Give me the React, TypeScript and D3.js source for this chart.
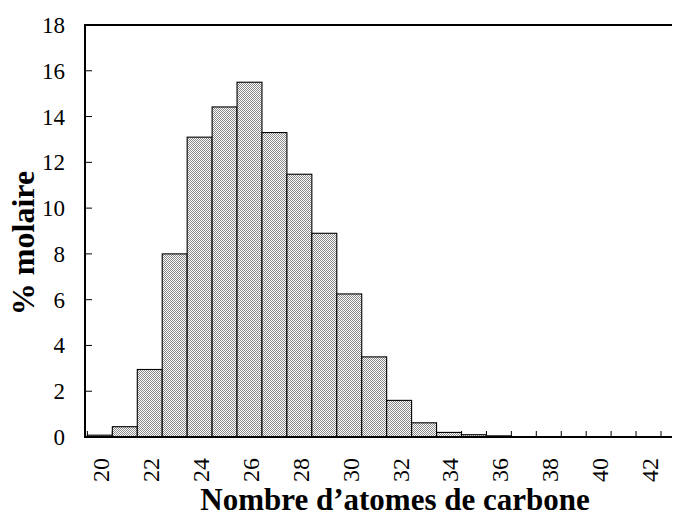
import React from "react";
import * as d3 from "d3";

const carbonNumbers = d3.range(20, 43);
const molarPercent = [
  0.08, 0.45, 2.95, 8.0, 13.1, 14.42, 15.5, 13.3, 11.48, 8.9, 6.25, 3.5, 1.6, 0.62, 0.2, 0.1,
  0.05, 0.02, 0, 0, 0, 0, 0,
];
const yTicks = [0, 2, 4, 6, 8, 10, 12, 14, 16, 18];
const xTickLabels = [20, 22, 24, 26, 28, 30, 32, 34, 36, 38, 40, 42];

const W = 674;
const H = 518;
const axisLeft = 85;
const axisRight = 672;
const bandLeft = 87.4;
const bandRight = 661;
const yTop = 25;
const yBottom = 437;
const serif = "'Liberation Serif', 'Times New Roman', serif";

export default function App() {
  const x = d3
    .scaleBand<number>()
    .domain(carbonNumbers)
    .range([bandLeft, bandRight])
    .paddingInner(0)
    .paddingOuter(0);
  const y = d3.scaleLinear().domain([0, 18]).range([yBottom, yTop]);
  const bw = x.bandwidth();
  const boundaries = d3.range(carbonNumbers.length + 1).map((i) => bandLeft + i * bw);

  return (
    <svg
      width={W}
      height={H}
      style={{ position: "absolute", left: 0, top: 0, background: "#fff" }}
    >
      <defs>
        <pattern id="stipple" width={2} height={2} patternUnits="userSpaceOnUse">
          <rect width={2} height={2} fill="#ffffff" />
          <rect x={0} y={0} width={1} height={1} fill="#8a8a8a" />
          <rect x={1} y={1} width={1} height={1} fill="#8a8a8a" />
        </pattern>
      </defs>

      {/* x ticks at band boundaries (inside) */}
      {boundaries.map((bx, i) => (
        <line key={"xt" + i} x1={bx} x2={bx} y1={yBottom} y2={yBottom - 6} stroke="#000" strokeWidth={1} />
      ))}

      {/* bars */}
      {carbonNumbers.map((c, i) => {
        const v = molarPercent[i];
        if (v <= 0) return null;
        const top = y(v);
        return (
          <rect
            key={"b" + c}
            x={x(c)!}
            y={top}
            width={bw}
            height={yBottom - top}
            fill="url(#stipple)"
            stroke="#000"
            strokeWidth={1.1}
          />
        );
      })}

      {/* y ticks */}
      {yTicks.map((t) => (
        <g key={"yt" + t}>
          <line x1={axisLeft} x2={axisLeft + 7} y1={y(t)} y2={y(t)} stroke="#000" strokeWidth={1} />
          <text
            x={65}
            y={y(t)}
            dy="0.35em"
            textAnchor="end"
            fontFamily={serif}
            fontSize={23}
            fill="#000"
          >
            {t}
          </text>
        </g>
      ))}

      {/* axes frame */}
      <line x1={axisLeft} x2={axisLeft} y1={yTop - 1} y2={yBottom + 1} stroke="#000" strokeWidth={2} />
      <line x1={axisLeft - 1} x2={axisRight} y1={yBottom} y2={yBottom} stroke="#000" strokeWidth={2} />
      <line x1={axisLeft - 1} x2={axisRight} y1={yTop} y2={yTop} stroke="#000" strokeWidth={2} />

      {/* x tick labels */}
      {xTickLabels.map((c) => {
        const cx = x(c)! + bw / 2;
        return (
          <text
            key={"xl" + c}
            transform={`translate(${cx + 1},${458}) rotate(-90)`}
            textAnchor="end"
            dy="0.35em"
            fontFamily={serif}
            fontSize={24}
            fill="#000"
          >
            {c}
          </text>
        );
      })}

      {/* axis titles */}
      <text
        x={395}
        y={510}
        textAnchor="middle"
        fontFamily={serif}
        fontWeight="bold"
        fontSize={31}
        fill="#000"
      >
        Nombre d’atomes de carbone
      </text>
      <text
        transform={`translate(${34},${243}) rotate(-90)`}
        textAnchor="middle"
        fontFamily={serif}
        fontWeight="bold"
        fontSize={32}
        fill="#000"
      >
        % molaire
      </text>
    </svg>
  );
}
